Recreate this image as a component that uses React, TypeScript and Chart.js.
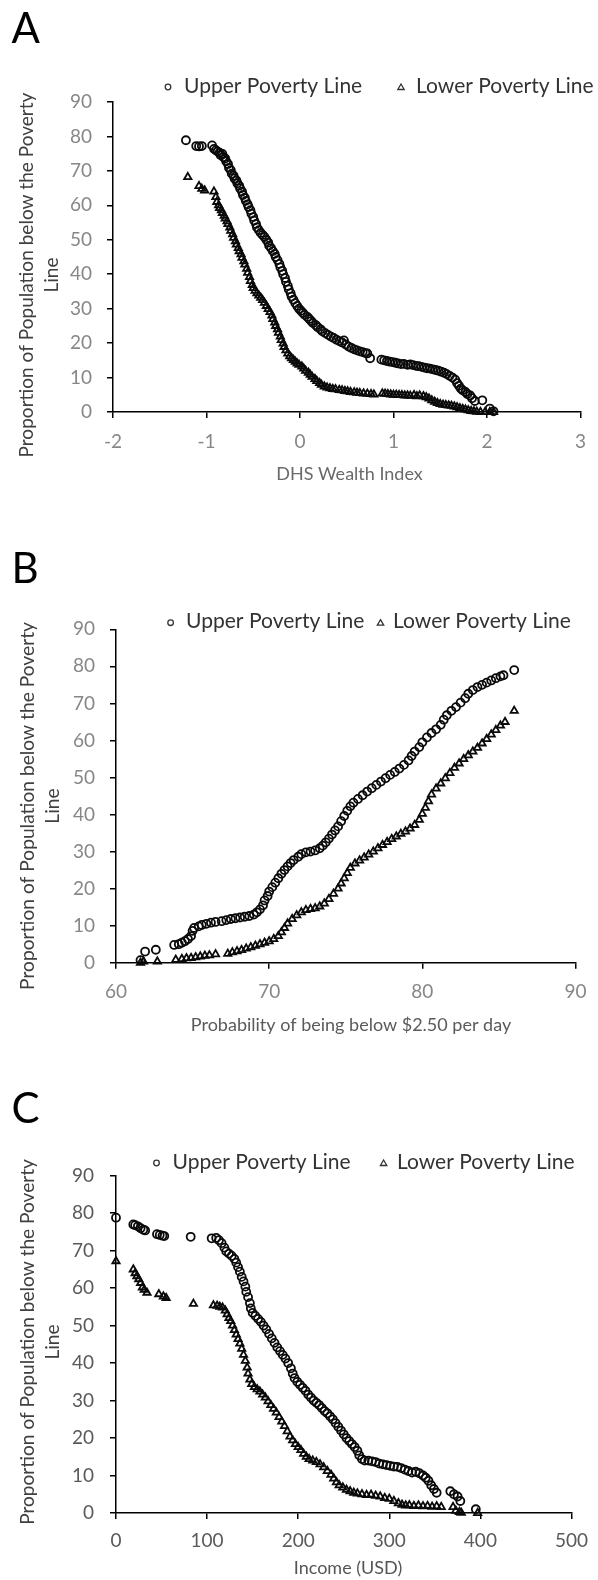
import React, { useEffect, useRef } from "react";
import { Chart, registerables } from "chart.js";

Chart.register(...registerables);

const FONT = "Lato, 'Open Sans', sans-serif";
const W = 598;

// ---------- Panel A: DHS Wealth Index ----------
const aUpper: [number, number][] = [
  [-1.22,78.9],[-1.11,77.2],[-1.08,77.1],[-1.05,77.2],[-0.94,77.4],[-0.92,76.4],[-0.90,76.0],[-0.88,75.6],[-0.86,75.3],[-0.85,74.6],
  [-0.83,74.9],[-0.82,74.0],[-0.80,73.6],[-0.79,72.8],[-0.77,72.0],[-0.76,70.9],[-0.74,70.2],[-0.73,69.2],[-0.71,68.6],[-0.70,67.8],
  [-0.68,67.2],[-0.67,66.4],[-0.65,65.7],[-0.64,64.9],[-0.62,64.0],[-0.61,63.0],[-0.59,62.2],[-0.58,61.3],[-0.56,60.3],[-0.55,59.5],
  [-0.53,58.6],[-0.52,57.6],[-0.50,56.6],[-0.49,55.6],[-0.47,54.6],[-0.46,53.6],[-0.44,52.8],[-0.42,52.0],[-0.40,51.4],[-0.38,50.8],
  [-0.36,50.0],[-0.34,49.2],[-0.33,48.3],[-0.31,47.6],[-0.29,46.7],[-0.27,45.9],[-0.26,45.0],[-0.24,44.1],[-0.22,43.0],[-0.21,42.0],
  [-0.19,41.0],[-0.18,40.0],[-0.16,38.9],[-0.15,37.8],[-0.13,36.6],[-0.12,35.6],[-0.10,34.5],[-0.09,33.5],[-0.07,32.6],[-0.05,31.6],
  [-0.03,30.8],[-0.01,30.0],[0.01,29.4],[0.03,28.8],[0.05,28.2],[0.08,27.6],[0.10,27.0],[0.12,26.4],[0.14,25.8],[0.17,25.2],
  [0.19,24.6],[0.22,24.0],[0.24,23.4],[0.27,22.9],[0.30,22.4],[0.33,21.9],[0.36,21.5],[0.39,21.0],[0.42,20.6],[0.45,20.2],
  [0.47,20.8],[0.49,19.6],[0.52,19.0],[0.55,18.6],[0.58,18.2],[0.61,17.9],[0.64,17.6],[0.67,17.4],[0.70,17.1],[0.72,17.0],
  [0.75,15.6],[0.87,15.2],[0.90,15.0],[0.93,14.8],[0.96,14.6],[0.99,14.5],[1.02,14.3],[1.05,14.1],[1.08,13.9],[1.11,14.0],
  [1.15,13.7],[1.18,13.8],[1.21,13.6],[1.24,13.4],[1.27,13.3],[1.30,13.1],[1.33,12.9],[1.36,12.7],[1.39,12.6],[1.42,12.4],
  [1.45,12.2],[1.48,12.0],[1.51,11.7],[1.54,11.4],[1.57,11.0],[1.60,10.5],[1.63,10.0],[1.66,9.4],[1.68,8.4],[1.70,7.6],
  [1.72,6.8],[1.74,6.3],[1.77,5.8],[1.79,5.2],[1.82,4.8],[1.84,4.0],[1.87,3.2],[1.95,3.4],[2.03,1.0],[2.07,0.2],
];
const aLower: [number, number][] = [
  [-1.20,68.2],[-1.08,65.6],[-1.05,64.8],[-1.02,64.3],[-0.92,64.0],[-0.90,62.4],[-0.89,61.0],[-0.87,60.0],[-0.86,59.2],[-0.84,58.6],
  [-0.83,57.8],[-0.81,57.0],[-0.80,56.2],[-0.78,55.4],[-0.77,54.6],[-0.75,53.6],[-0.74,52.6],[-0.72,51.6],[-0.71,50.6],[-0.69,49.6],
  [-0.68,48.6],[-0.66,47.6],[-0.65,46.7],[-0.63,45.8],[-0.62,44.8],[-0.60,43.8],[-0.59,42.8],[-0.57,41.6],[-0.56,40.4],[-0.54,39.2],
  [-0.53,38.0],[-0.51,36.9],[-0.50,36.0],[-0.48,35.2],[-0.46,34.5],[-0.44,33.8],[-0.42,33.2],[-0.40,32.5],[-0.38,31.7],[-0.36,30.8],
  [-0.34,29.9],[-0.32,29.0],[-0.30,28.0],[-0.29,27.0],[-0.27,26.0],[-0.26,25.0],[-0.24,24.0],[-0.23,23.0],[-0.21,21.9],[-0.20,20.9],
  [-0.18,19.9],[-0.17,18.9],[-0.15,17.9],[-0.13,17.0],[-0.11,16.2],[-0.09,15.6],[-0.07,15.1],[-0.05,14.6],[-0.03,14.1],[-0.01,13.7],
  [0.02,13.2],[0.04,12.6],[0.06,12.0],[0.09,11.4],[0.11,10.8],[0.13,10.2],[0.16,9.6],[0.18,9.0],[0.21,8.4],[0.23,7.9],
  [0.26,7.4],[0.29,7.1],[0.32,6.9],[0.35,6.7],[0.38,6.6],[0.42,6.4],[0.45,6.3],[0.48,6.1],[0.51,6.0],[0.54,5.8],
  [0.58,5.7],[0.61,5.6],[0.64,5.5],[0.68,5.4],[0.72,5.3],[0.76,5.2],[0.79,5.1],[0.88,5.4],[0.91,5.3],[0.94,5.2],
  [0.97,5.1],[1.00,5.0],[1.03,5.0],[1.06,4.9],[1.09,4.9],[1.12,4.8],[1.15,4.8],[1.18,4.7],[1.22,4.9],[1.25,4.6],
  [1.28,4.8],[1.32,4.6],[1.35,4.3],[1.38,3.9],[1.41,3.4],[1.44,3.0],[1.47,2.6],[1.50,2.3],[1.53,2.1],[1.56,2.0],
  [1.59,1.9],[1.62,1.8],[1.65,1.6],[1.68,1.4],[1.71,1.1],[1.74,0.9],[1.77,0.7],[1.80,0.5],[1.83,0.3],[1.86,0.2],
  [1.89,0.1],[1.93,0.0],[1.98,0.0],[2.03,0.0],[2.07,0.0],
];

// ---------- Panel B: Probability of being below $2.50 per day ----------
const bUpper: [number, number][] = [
  [61.6,0.7],[61.9,3.0],[62.6,3.5],[63.8,4.8],[64.1,5.0],[64.3,5.4],[64.5,5.8],[64.7,6.4],[64.9,7.2],[65.0,8.6],
  [65.1,9.4],[65.4,9.8],[65.6,10.2],[65.9,10.5],[66.2,10.8],[66.5,11.0],[66.9,11.2],[67.2,11.5],[67.5,11.8],[67.8,12.0],
  [68.1,12.2],[68.4,12.4],[68.7,12.6],[69.0,13.0],[69.2,13.6],[69.4,14.4],[69.6,15.5],[69.7,16.8],[69.9,18.0],[70.0,19.2],
  [70.2,20.4],[70.4,21.6],[70.6,22.8],[70.8,24.0],[71.0,25.0],[71.2,26.0],[71.4,26.9],[71.6,27.7],[71.9,28.6],[72.1,29.3],
  [72.4,29.8],[72.7,30.0],[73.0,30.3],[73.3,30.9],[73.5,31.6],[73.7,32.5],[73.9,33.5],[74.1,34.6],[74.3,35.7],[74.5,36.8],
  [74.7,38.2],[74.9,39.6],[75.1,41.0],[75.3,42.2],[75.5,43.2],[75.8,44.2],[76.1,45.2],[76.4,46.2],[76.7,47.1],[77.0,48.0],
  [77.3,48.9],[77.6,49.8],[77.9,50.7],[78.2,51.5],[78.5,52.4],[78.8,53.4],[79.1,54.6],[79.3,55.8],[79.5,57.0],[79.8,58.2],
  [80.0,59.5],[80.3,60.8],[80.6,62.0],[80.9,63.0],[81.2,64.2],[81.4,65.6],[81.6,66.8],[81.9,68.0],[82.2,69.0],[82.5,70.2],
  [82.8,71.4],[83.0,72.6],[83.3,73.6],[83.6,74.4],[83.9,75.0],[84.2,75.6],[84.5,76.2],[84.8,76.8],[85.1,77.3],[85.3,77.6],
  [86.0,79.0],
];
const bLower: [number, number][] = [
  [61.6,0.0],[61.8,0.3],[62.7,0.3],[63.9,0.8],[64.3,1.0],[64.6,1.2],[64.9,1.3],[65.2,1.5],[65.5,1.7],[65.8,1.9],
  [66.1,2.0],[66.5,2.3],[67.3,2.4],[67.6,2.8],[67.9,3.1],[68.2,3.4],[68.5,3.8],[68.8,4.2],[69.1,4.6],[69.4,5.0],
  [69.7,5.4],[70.0,5.8],[70.3,6.4],[70.6,7.2],[70.8,8.2],[71.0,9.4],[71.2,10.6],[71.5,11.8],[71.8,12.8],[72.1,13.6],
  [72.4,14.2],[72.7,14.5],[73.0,14.7],[73.3,15.2],[73.6,16.0],[73.9,17.2],[74.2,18.6],[74.5,20.0],[74.7,21.4],[74.9,22.8],
  [75.1,24.2],[75.3,25.6],[75.6,26.8],[75.9,27.6],[76.2,28.4],[76.5,29.2],[76.8,30.0],[77.1,30.9],[77.4,31.8],[77.7,32.6],
  [78.0,33.4],[78.3,34.1],[78.6,34.8],[78.9,35.4],[79.2,36.2],[79.5,37.2],[79.8,38.6],[80.0,40.2],[80.2,41.8],[80.4,43.6],
  [80.6,45.4],[80.9,47.0],[81.2,48.4],[81.5,49.8],[81.8,51.2],[82.1,52.6],[82.4,53.8],[82.7,55.0],[83.0,56.0],[83.3,57.0],
  [83.6,58.0],[83.9,59.2],[84.2,60.4],[84.5,61.6],[84.8,62.8],[85.1,64.0],[85.4,65.0],[86.0,68.0],
];

// ---------- Panel C: Income (USD) ----------
const cUpper: [number, number][] = [
  [0,78.8],[19,77.0],[21,76.8],[24,76.5],[27,76.0],[30,75.6],[32,75.4],[45,74.4],[48,74.2],[51,74.0],
  [53,73.9],[82,73.7],[105,73.3],[110,73.4],[113,72.8],[116,72.0],[119,70.8],[121,69.8],[124,69.2],[127,68.6],
  [130,67.8],[132,66.8],[134,65.6],[136,64.4],[138,63.0],[140,61.8],[142,60.4],[143,59.0],[145,57.6],[147,56.0],
  [148,54.6],[150,53.4],[153,52.6],[156,51.8],[159,51.0],[162,50.0],[165,49.0],[168,47.8],[171,46.6],[174,45.4],
  [177,44.2],[180,43.2],[183,42.2],[186,41.2],[189,40.0],[192,38.6],[194,37.2],[196,36.0],[199,35.0],[202,34.2],
  [205,33.4],[208,32.6],[211,31.6],[214,30.8],[217,30.0],[220,29.4],[223,28.8],[226,28.0],[229,27.2],[232,26.6],
  [235,25.8],[238,25.0],[241,24.0],[244,23.0],[247,22.0],[250,21.0],[253,20.0],[256,19.2],[259,18.4],[262,17.6],
  [265,16.6],[267,15.4],[270,14.4],[273,14.0],[277,14.0],[281,13.8],[285,13.6],[289,13.2],[293,13.0],[297,12.8],
  [301,12.6],[305,12.4],[309,12.3],[313,12.0],[317,11.6],[321,11.2],[325,10.8],[329,11.0],[333,10.6],[337,10.0],
  [340,9.4],[343,8.6],[346,7.4],[349,6.4],[352,5.4],[367,5.8],[371,5.0],[375,4.4],[378,3.2],[395,1.0],
];
const cLower: [number, number][] = [
  [0,67.2],[19,65.0],[21,64.0],[23,63.2],[25,62.4],[27,61.4],[29,60.2],[31,59.6],[34,58.8],[47,58.4],
  [52,57.8],[55,57.4],[85,55.8],[107,55.4],[111,55.3],[114,55.0],[117,54.8],[120,54.0],[122,53.0],[124,52.0],
  [126,51.2],[128,50.0],[130,48.8],[132,47.6],[134,46.4],[136,45.2],[138,43.8],[140,42.2],[142,40.6],[144,38.8],
  [145,37.2],[147,35.6],[149,34.4],[152,33.6],[155,33.0],[158,32.4],[161,31.6],[164,30.8],[167,29.8],[170,28.8],
  [173,27.8],[176,26.8],[179,25.6],[182,24.4],[185,23.2],[188,21.8],[191,20.4],[194,19.4],[197,18.4],[200,17.6],
  [203,16.8],[206,15.8],[209,15.0],[212,14.4],[216,14.0],[220,13.6],[224,13.0],[228,12.2],[232,11.2],[236,10.2],
  [239,9.2],[242,8.2],[245,7.4],[249,6.8],[253,6.2],[257,5.8],[261,5.4],[265,5.2],[270,5.0],[275,4.8],
  [280,4.9],[285,4.6],[290,4.4],[295,4.0],[300,3.8],[305,3.2],[310,2.6],[314,2.2],[318,2.0],[322,2.1],
  [327,1.9],[332,2.0],[337,1.8],[342,1.9],[347,1.7],[352,1.8],[357,1.6],[370,1.6],[373,0.6],[377,0.3],
  [379,0.1],[397,0.0],
];

const seriesNames = ["Upper Poverty Line", "Lower Poverty Line"];
const yTitleLines = ["Proportion of Population below the Poverty", "Line"];
const panelLetters = ["A", "B", "C"];
const xTitles = ["DHS Wealth Index", "Probability of being below $2.50 per day", "Income (USD)"];
const xRanges: [number, number, number][] = [[-2, 3, 1], [60, 90, 10], [0, 500, 100]];
const yRange: [number, number, number] = [0, 90, 10];

type Panel = {
  top: number; height: number;
  area: { l: number; r: number; t: number; b: number };
  upper: [number, number][]; lower: [number, number][];
  tickColor: string; titleColor: string;
  xPad: number; yPad: number;
  xTitleX: number; xTitleY: number; xTitleW: number;
  yTitleX: number; yTitle2X: number; yTitleY: number; yTitleLen: number;
  letterX: number; letterY: number;
  legY: number; circX: number; upX: number; upW: number; triX: number; lowX: number; lowW: number;
};

const panels: Panel[] = [
  {
    top: 0, height: 500, area: { l: 113, r: 586, t: 102, b: 412 },
    upper: aUpper, lower: aLower, tickColor: "#878787", titleColor: "#6a6a6a",
    xPad: 12, yPad: 15,
    xTitleX: 349.5, xTitleY: 474, xTitleW: 156,
    yTitleX: 27, yTitle2X: 51.5, yTitleY: 275, yTitleLen: 365,
    letterX: 11.5, letterY: 43,
    legY: 86, circX: 168, upX: 184, upW: 179, triX: 401, lowX: 416, lowW: 177,
  },
  {
    top: 500, height: 540, area: { l: 116, r: 586, t: 129.3, b: 462.7 },
    upper: bUpper, lower: bLower, tickColor: "#878787", titleColor: "#5a5a5a",
    xPad: 11.5, yPad: 15,
    xTitleX: 351, xTitleY: 525, xTitleW: 333,
    yTitleX: 28.3, yTitle2X: 53, yTitleY: 306, yTitleLen: 368,
    letterX: 11.5, letterY: 83,
    legY: 121.7, circX: 170.6, upX: 186, upW: 178.5, triX: 380.5, lowX: 393, lowW: 178,
  },
  {
    top: 1040, height: 540, area: { l: 116, r: 580, t: 135.7, b: 473 },
    upper: cUpper, lower: cLower, tickColor: "#5a5a5a", titleColor: "#555555",
    xPad: 10, yPad: 16,
    xTitleX: 348, xTitleY: 528, xTitleW: 112,
    yTitleX: 28, yTitle2X: 53.3, yTitleY: 302, yTitleLen: 366,
    letterX: 11.5, letterY: 82.6,
    legY: 122, circX: 156.5, upX: 172.5, upW: 178.5, triX: 383.6, lowX: 397, lowW: 177.4,
  },
];

function fitSize(ctx: CanvasRenderingContext2D, text: string, target: number): number {
  ctx.font = `100px ${FONT}`;
  const w = ctx.measureText(text).width;
  return (100 * target) / w;
}

const decorPlugin = {
  id: "panelDecor",
  afterDraw(chart: any) {
    const p: Panel = chart.options.plugins.panelDecor.panel;
    const idx: number = chart.options.plugins.panelDecor.index;
    const ctx: CanvasRenderingContext2D = chart.ctx;
    ctx.save();

    // Panel letter
    ctx.fillStyle = "#000";
    ctx.font = `42px ${FONT}`;
    ctx.textAlign = "left";
    ctx.textBaseline = "alphabetic";
    ctx.fillText(panelLetters[idx], p.letterX, p.letterY);

    // Legend
    const upSize = fitSize(ctx, seriesNames[0], p.upW);
    const lowSize = fitSize(ctx, seriesNames[1], p.lowW);
    const ls = (upSize + lowSize) / 2;
    ctx.fillStyle = "#333";
    ctx.textBaseline = "middle";
    ctx.font = `${ls}px ${FONT}`;
    ctx.fillText(seriesNames[0], p.upX, p.legY);
    ctx.fillText(seriesNames[1], p.lowX, p.legY);
    ctx.strokeStyle = "#333";
    ctx.lineWidth = 1.3;
    ctx.beginPath();
    ctx.arc(p.circX, p.legY + 1, 2.8, 0, Math.PI * 2);
    ctx.stroke();
    ctx.beginPath();
    ctx.moveTo(p.triX, p.legY - 2);
    ctx.lineTo(p.triX + 3.2, p.legY + 3.5);
    ctx.lineTo(p.triX - 3.2, p.legY + 3.5);
    ctx.closePath();
    ctx.stroke();

    // X axis title
    const xs = Math.min(fitSize(ctx, xTitles[idx], p.xTitleW), 18);
    ctx.font = `${xs}px ${FONT}`;
    ctx.fillStyle = p.titleColor;
    ctx.textAlign = "center";
    ctx.textBaseline = "middle";
    ctx.fillText(xTitles[idx], p.xTitleX, p.xTitleY);

    // Y axis title (two lines, rotated)
    const ys = fitSize(ctx, yTitleLines[0], p.yTitleLen);
    ctx.font = `${ys}px ${FONT}`;
    ctx.fillStyle = "#404040";
    ctx.save();
    ctx.translate(p.yTitleX, p.yTitleY);
    ctx.rotate(-Math.PI / 2);
    ctx.fillText(yTitleLines[0], 0, 0);
    ctx.restore();
    ctx.save();
    ctx.translate(p.yTitle2X, p.yTitleY);
    ctx.rotate(-Math.PI / 2);
    ctx.fillText(yTitleLines[1], 0, 0);
    ctx.restore();

    ctx.restore();
  },
};

function makeConfig(p: Panel, idx: number): any {
  const [xmin, xmax, xstep] = xRanges[idx];
  const axisCommon = {
    grid: { display: true, drawOnChartArea: false, drawTicks: true, tickLength: 6, color: "#000", lineWidth: 1.5 },
    border: { display: true, color: "#000", width: 1.5 },
  };
  return {
    type: "scatter",
    data: {
      datasets: [
        {
          label: seriesNames[0],
          data: p.upper.map(([x, y]) => ({ x, y })),
          pointStyle: "circle",
          pointRadius: 4,
          pointBorderWidth: 1.8,
          pointBorderColor: "#0a0a0a",
          pointBackgroundColor: "rgba(255,255,255,0)",
          showLine: false,
          clip: false,
        },
        {
          label: seriesNames[1],
          data: p.lower.map(([x, y]) => ({ x, y })),
          pointStyle: "triangle",
          pointRadius: 4.2,
          pointBorderWidth: 1.8,
          pointBorderColor: "#0a0a0a",
          pointBackgroundColor: "rgba(255,255,255,0)",
          showLine: false,
          clip: false,
        },
      ],
    },
    options: {
      responsive: false,
      animation: false,
      events: [],
      layout: { padding: { left: 0, top: p.area.t, right: W - p.area.r, bottom: 0 } },
      plugins: {
        legend: { display: false },
        tooltip: { enabled: false },
        panelDecor: { panel: p, index: idx },
      },
      scales: {
        x: {
          type: "linear",
          min: xmin,
          max: xmax,
          ...axisCommon,
          ticks: { stepSize: xstep, color: p.tickColor, font: { family: FONT, size: 19 }, padding: p.xPad, maxRotation: 0 },
          afterFit: (s: any) => { s.height = p.height - p.area.b; },
        },
        y: {
          type: "linear",
          min: yRange[0],
          max: yRange[1],
          ...axisCommon,
          ticks: { stepSize: yRange[2], color: p.tickColor, font: { family: FONT, size: 19 }, padding: p.yPad },
          afterFit: (s: any) => { s.width = p.area.l; },
        },
      },
    },
    plugins: [decorPlugin],
  };
}

function PanelChart({ p, idx }: { p: Panel; idx: number }) {
  const ref = useRef<HTMLCanvasElement | null>(null);
  useEffect(() => {
    let chart: Chart | null = null;
    let cancelled = false;
    const fontsReady = (document as any).fonts
      ? Promise.all([
          (document as any).fonts.load(`19px Lato`),
          (document as any).fonts.load(`42px Lato`),
        ]).catch(() => null)
      : Promise.resolve(null);
    fontsReady.then(() => {
      if (cancelled || !ref.current) return;
      chart = new Chart(ref.current, makeConfig(p, idx));
    });
    return () => {
      cancelled = true;
      if (chart) chart.destroy();
    };
  }, [p, idx]);
  return (
    <canvas
      ref={ref}
      width={W}
      height={p.height}
      style={{ position: "absolute", left: 0, top: p.top, width: W, height: p.height, display: "block" }}
    />
  );
}

export default function App() {
  return (
    <div style={{ position: "absolute", left: 0, top: 0, width: W, height: 1580, background: "#fff" }}>
      {panels.map((p, i) => (
        <PanelChart key={i} p={p} idx={i} />
      ))}
    </div>
  );
}
